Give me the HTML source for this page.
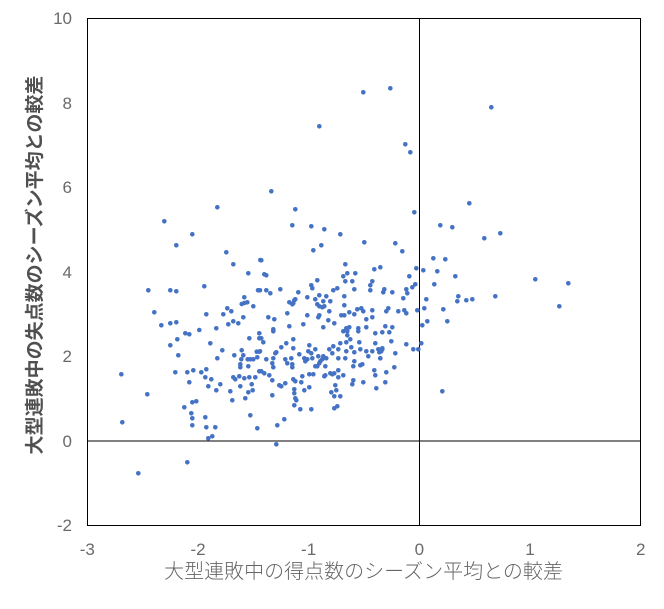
<!DOCTYPE html>
<html>
<head>
<meta charset="utf-8">
<style>
html,body{margin:0;padding:0;background:#fff;}
svg{display:block;}
.t{font-family:"Liberation Sans","Noto Sans CJK JP",sans-serif;font-size:17px;fill:#6a6a6a;}
.ttl{font-family:"Liberation Sans","Noto Sans CJK JP",sans-serif;font-size:20px;font-weight:300;fill:#666;}
.yttl{font-family:"Liberation Sans","Noto Sans CJK JP",sans-serif;font-size:19px;font-weight:bold;fill:#505050;}
</style>
</head>
<body>
<svg width="664" height="609" viewBox="0 0 664 609" xmlns="http://www.w3.org/2000/svg">
<rect x="0" y="0" width="664" height="609" fill="#fff"/>
<rect x="87.5" y="18.5" width="553" height="507" fill="none" stroke="#000" stroke-width="1"/>
<line x1="419.5" y1="18.5" x2="419.5" y2="525.5" stroke="#000" stroke-width="1"/>
<line x1="87.5" y1="441" x2="640.5" y2="441" stroke="#000" stroke-width="1"/>

<g class="t" text-anchor="end">
<text x="72" y="24">10</text>
<text x="72" y="109">8</text>
<text x="72" y="193">6</text>
<text x="72" y="278">4</text>
<text x="72" y="362">2</text>
<text x="72" y="447">0</text>
<text x="72" y="531">-2</text>
</g>
<g class="t" text-anchor="middle">
<text x="87.3" y="555">-3</text>
<text x="198" y="555">-2</text>
<text x="308.6" y="555">-1</text>
<text x="419.3" y="555">0</text>
<text x="530" y="555">1</text>
<text x="640.7" y="555">2</text>
</g>
<text class="ttl" x="363.5" y="578" text-anchor="middle">大型連敗中の得点数のシーズン平均との較差</text>
<g transform="translate(34,265) rotate(-90)">
<text class="yttl" x="0" y="7" text-anchor="middle">大型連敗中の失点数のシーズン平均との較差</text>
</g>

<g id="pts" fill="#4472C4"></g>
</svg>
<script>
var d=[363.3,92.3,390.3,88.3,319.3,126.3,491.3,107.3,405.3,144.3,410.3,152.3,
217.3,207.3,164.3,221.3,192.3,234.3,176.3,245.3,226.3,252.3,233.3,264.3,248.3,273.3,260.3,260,148.3,290.3,170.3,290.3,176.3,291.3,204.3,286.3,258,290.3,244.3,297.3,241.7,304,244.3,303,247.3,302.3,253.3,306.3,154.3,312.3,206.3,314.3,223.3,314.3,227.3,308.3,231.3,311.3,243.3,317.3,161.3,325.3,170.3,323.3,176.3,322.3,228.3,324.3,233.3,321.3,238.3,323.3,216.3,328.3,199.3,330,
185.3,333.3,189.3,334.3,177.3,339.3,170.3,345.3,210.3,343.3,178.3,355.3,222.3,350.3,217.3,358.3,234.3,355.3,249.3,338.3,259.3,333.3,259.3,338.3,241.7,350.3,243.3,355.3,241.3,359.3,240.3,364.3,240.3,367.3,247.7,359.3,250.3,359.3,253.3,359.3,256.7,351.7,259.3,351.7,257.3,357.3,248.3,366.3,121.3,374.3,175.3,372.3,187.3,372.3,193.3,370.3,201.3,372.3,206.3,369.3,205.3,377.3,211.3,379.3,189.3,382.3,208.3,386.3,220.3,384.3,216.3,390.3,233.3,377.3,235.3,379.3,239.3,376.3,244.3,378.3,249.3,377.3,255.3,377.3,259.3,371.3,240.3,386.3,251.7,384.3,252.7,390.3,248.3,392.3,230.3,391.3,232.3,400.3,245.3,398.3,147.3,394.3,192.3,402.3,196.3,401.3,184.3,407.3,191.3,413.3,192.3,418.3,192.3,425.3,205.3,417.3,206.3,427.3,215.3,427.3,250.3,415.3,257.3,428.3,208.3,438.3,212.3,436.3,122.3,422.3,187.3,462.3,138.3,473.3,
271.3,191.3,295.3,209.3,414.3,212.3,292.3,225.3,311.3,226.3,324.3,229.3,340.3,234.3,364.3,242.3,395.3,243.3,321.3,245.3,313.3,250.3,402.3,251.3,261.3,260.3,345.3,264.3,374.3,269.3,380.3,267.3,416.3,268.3,264.3,274.3,266.3,275.3,347.3,273.3,355.3,273.3,343.3,276.3,409.3,276.3,317.3,280.3,345.3,281.3,352.3,281.3,372.3,281.3,370.3,285.3,311.3,285.3,312.3,288.3,415.3,284.3,412.3,287.3,260,290.3,266.3,290.3,270.3,293.3,280.3,289.3,298.3,292.3,333.3,290.3,337.3,288.3,354.3,289.3,370.3,290.3,384.3,289.3,383.3,292.3,392.3,292.3,406.3,289.3,407.3,293.3,307.3,297.3,315.3,299.3,319.3,295.3,326.3,296.3,323.3,301.3,330.3,301.3,344.3,296.3,403.3,298.3,289.3,302.3,292.3,304.3,294.3,300.3,295.3,299.3,293.3,303.3,317.3,304.3,319.3,306.3,322.3,307.3,324.3,306.3,344.3,305.3,357.3,309.3,361.3,308.3,363.3,311.3,372.3,310.3,388.3,308.3,386.3,311.3,398.3,311.3,404.3,310.3,406.3,313.3,417.3,310.3,329.3,311.3,287.3,313.3,307.3,315.3,319.3,315.3,318.3,317.3,341.3,315.3,344.3,315.3,349.3,312.3,354.3,314.3,372.3,317.3,366.3,319.3,268.3,317.3,274.3,319.3,328.3,320.3,303.3,324.3,289.3,326.3,323.3,327.3,334.3,323.3,346.3,328.3,349.3,327.3,358.3,328.3,366.3,327.3,385.3,326.3,392.3,327.3,273.3,329.3,
261.3,338.3,263.3,342.3,266.3,359.3,273.3,358.3,272.3,363.3,273.3,367.3,276.3,352.3,275.3,353.3,281.3,347.3,286.3,343.3,293.3,339.3,293.3,348.3,285.3,359.3,287.3,363.3,291.3,358.3,292.3,364.3,292.3,367.3,299.3,354.3,304.3,358.3,305.3,361.3,307.3,359.3,309.3,345.3,308.3,351.3,311.3,353.3,315.3,349.3,318.3,356.3,320.3,361.3,322.3,359.3,323.3,356.3,319.3,363.3,315.3,366.3,317.3,366.3,325.3,366.3,312.3,358.3,326.3,358.3,329.3,349.3,333.3,346.3,338.3,349.3,340.3,343.3,346.3,342.3,350.3,339.3,347.3,335.3,343.3,331.3,347.3,331.3,358.3,331.3,332.3,353.3,338.3,358.3,345.3,358.3,346.3,351.3,351.3,347.3,354.3,352.3,359.3,342.3,360.3,349.3,366.3,351.3,368.3,356.3,372.3,351.3,378.3,349.3,379.3,352.3,382.3,349.3,380.3,358.3,375.3,333.3,382.3,332.3,389.3,332.3,375.3,343.3,391.3,341.3,395.3,353.3,406.3,344.3,413.3,349.3,418.3,349.3,354.3,361.3,353.3,366.3,360.3,365.3,362.3,364.3,338.3,370.3,334.3,373.3,338.3,377.3,343.3,375.3,330.3,373.3,332.3,374.3,325.3,375.3,324.3,376.3,309.3,374.3,313.3,374.3,302.3,376.3,301.3,382.3,293.3,379.3,295.3,381.3,285.3,383.3,279.3,385.3,281.3,386.3,261.3,371.3,264.3,373.3,269.3,375.3,272.3,380.3,294.3,389.3,294.3,393.3,304.3,390.3,309.3,387.3,335.3,385.3,336.3,390.3,331.3,392.3,334.3,396.3,340.3,396.3,353.3,380.3,352.3,384.3,363.3,382.3,374.3,370.3,375.3,375.3,386.3,372.3,385.3,382.3,376.3,388.3,394.3,367.3,272.3,395.3,295.3,398.3,296.3,400.3,294.3,405.3,300.3,409.3,311.3,409.3,337.3,406.3,334.3,408.3,284.3,419.3,277.3,425.3,276.3,444.3,260,351.3,273.3,331.3,
469.3,203.3,440.3,225.3,452.3,227.3,484.3,238.3,500.3,233.3,433.3,258.3,445.3,259.3,423.3,270.3,437.3,271.3,455.3,276.3,434.3,284.3,535.3,279.3,568.3,283.3,426.3,299.3,424.3,308.3,458.3,296.3,457.3,301.3,466.3,300.3,472.3,299.3,495.3,296.3,559.3,306.3,443.3,309.3,427.3,321.3,447.3,321.3,422.3,325.3,
381.3,351.3,382.3,348.3,380.3,358.3,421.3,343.3,442.3,391.3];
var g=document.getElementById('pts'),ns='http://www.w3.org/2000/svg';
for(var i=0;i<d.length;i+=2){var c=document.createElementNS(ns,'circle');c.setAttribute('cx',d[i]);c.setAttribute('cy',d[i+1]);c.setAttribute('r','2.3');g.appendChild(c);}
</script>
</body>
</html>
